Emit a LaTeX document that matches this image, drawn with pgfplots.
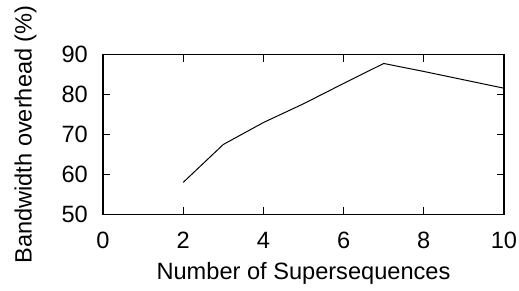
\documentclass[border=0pt]{standalone}
\usepackage{fontspec}
\setmainfont{Liberation Sans}
\usepackage{pgfplots}
\pgfplotsset{compat=1.18}
\begin{document}
\begin{tikzpicture}
\path[use as bounding box] (-103bp,-76.7bp) rectangle (416bp,214.3bp);
\begin{axis}[
  scale only axis,
  width=401bp, height=159.6bp,
  xmin=0, xmax=10, ymin=50, ymax=90,
  xtick={0,2,4,6,8,10}, ytick={50,60,70,80,90},
  tick align=inside,
  major tick length=7bp,
  axis line style={line width=1.1bp},
  every tick/.style={black, line width=0.9bp},
  /pgf/number format/assume math mode=true,
  font=\fontsize{23.6bp}{28bp}\selectfont,
  xticklabel style={anchor=center, inner sep=0pt, yshift=-26bp},
  yticklabel style={anchor=east, inner sep=0pt, xshift=-15bp},
  xlabel={Number of Supersequences},
  ylabel={Bandwidth overhead (\%)},
  xlabel style={at={(axis description cs:0.5,-0.4073)}, anchor=base, inner sep=0pt},
  ylabel style={at={(axis description cs:-0.1778,0.5)}, anchor=base, inner sep=0pt},
]
\addplot[black, line width=1bp, mark=none] coordinates {
  (2,58.0) (3,67.5) (4,73.0) (5,77.7) (6,82.8) (7,87.8) (8,85.8) (9,83.7) (10,81.6)
};
\end{axis}
\end{tikzpicture}
\end{document}
